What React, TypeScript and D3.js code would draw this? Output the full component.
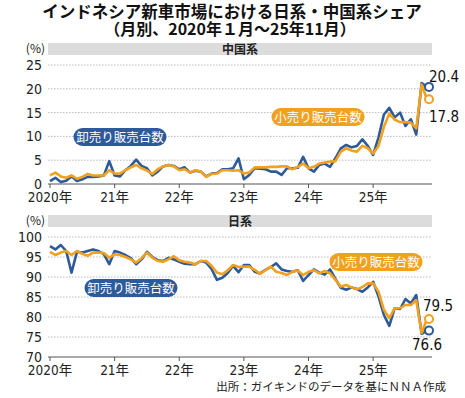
import * as d3 from 'd3'

// monthly share (%), Jan 2020 - Nov 2025
const chinaWholesale = [
  0.6, 1.3, 0.4, 0.7, 1.6, 0.6, 1.0, 1.5, 1.5, 1.6, 1.8, 4.8,
  1.8, 1.6, 2.9, 3.8, 5.1, 3.8, 3.3, 1.8, 2.6, 3.7, 4.0, 3.8,
  3.1, 3.5, 2.4, 2.8, 2.6, 1.6, 2.2, 2.3, 3.1, 3.1, 3.3, 5.4,
  1.0, 1.9, 3.3, 3.2, 3.1, 2.6, 2.6, 1.9, 3.3, 3.3, 3.4, 5.7,
  3.3, 2.6, 4.0, 4.3, 3.6, 5.4, 7.5, 8.2, 7.7, 8.0, 9.4, 8.0,
  6.1, 9.8, 14.6, 16.0, 14.0, 15.0, 12.2, 13.6, 10.4, 21.2, 20.4,
]
const chinaRetail = [
  1.8, 2.4, 1.6, 1.3, 1.8, 1.1, 1.5, 2.1, 1.8, 1.8, 1.8, 2.9,
  2.2, 2.2, 2.9, 3.5, 4.0, 3.3, 2.8, 2.1, 3.1, 3.7, 4.0, 3.7,
  2.9, 3.1, 2.4, 2.9, 2.6, 1.5, 2.1, 2.2, 2.9, 2.9, 2.8, 2.9,
  2.2, 2.4, 3.5, 3.5, 3.5, 3.6, 3.6, 3.7, 3.7, 3.1, 3.6, 4.3,
  3.3, 3.6, 4.3, 4.5, 4.7, 4.8, 6.8, 7.5, 7.0, 6.8, 8.0, 7.5,
  6.4, 8.0, 12.0, 14.8, 13.5, 13.0, 13.0, 12.9, 11.7, 20.9, 17.8,
]
const japanWholesale = [
  97.7, 96.9, 98.0, 96.5, 91.1, 96.3, 96.1, 96.5, 96.9, 96.5, 95.7, 93.2,
  96.5, 96.1, 95.5, 94.7, 93.2, 94.4, 96.3, 95.0, 94.2, 94.0, 94.8, 94.4,
  93.8, 93.3, 93.2, 93.2, 94.0, 93.6, 92.0, 89.3, 89.8, 91.0, 92.8, 91.2,
  93.0, 93.0, 91.3, 90.9, 91.8, 92.5, 93.4, 91.9, 91.5, 91.3, 91.7, 89.0,
  90.5, 91.9, 91.1, 90.6, 91.9, 89.5, 87.3, 86.8, 87.4, 87.0, 86.3, 87.4,
  88.8, 85.1, 80.5, 77.8, 82.2, 82.0, 84.5, 83.4, 85.5, 75.8, 76.6,
]
const japanRetail = [
  96.3, 95.5, 96.1, 96.5, 95.5, 96.5, 95.8, 95.3, 96.1, 96.1, 96.0, 94.8,
  95.7, 95.5, 95.0, 94.4, 93.6, 94.7, 96.1, 94.8, 94.0, 93.8, 94.4, 95.2,
  94.2, 93.8, 93.6, 93.2, 94.0, 94.0, 92.8, 91.1, 90.7, 91.7, 93.0, 92.5,
  92.6, 92.6, 91.8, 90.8, 91.7, 92.6, 91.3, 91.0, 90.5, 91.3, 91.6, 90.5,
  91.3, 91.7, 90.9, 91.5, 90.9, 89.3, 87.6, 88.0, 87.4, 86.9, 87.5, 88.4,
  88.4, 86.3, 81.8, 79.7, 82.2, 82.2, 83.0, 83.0, 84.2, 76.0, 79.5,
]
const yearLabels = ['2020年', '21年', '22年', '23年', '24年', '25年']
const chinaTicks = [0, 5, 10, 15, 20, 25]
const japanTicks = [70, 75, 80, 85, 90, 95, 100]

const BLUE = '#2d5a9a'
const ORANGE = '#f2a11f'
const NUM_FONT = "'Liberation Sans Narrow','DejaVu Sans Condensed','Noto Sans CJK JP',sans-serif"
const JP_FONT = "'Noto Sans CJK JP',sans-serif"

const x = d3.scaleLinear().domain([0, chinaWholesale.length - 1]).range([50, 427])

type PanelProps = {
  title: string
  top: number
  yDomain: [number, number]
  yRange: [number, number]
  ticks: number[]
  wholesale: number[]
  retail: number[]
  bluePill: [number, number]
  orangePill: [number, number]
  labels: { blue: [number, number]; orange: [number, number] }
}

function Pill({ cx, cy, text, fill }: { cx: number; cy: number; text: string; fill: string }) {
  const w = 93
  const h = 18
  return (
    <g>
      <rect x={cx - w / 2} y={cy - h / 2} width={w} height={h} rx={9} fill={fill} />
      <text x={cx} y={cy + 4.5} textAnchor="middle" fill="#fff" fontSize={12.5} fontFamily={JP_FONT}>
        {text}
      </text>
    </g>
  )
}

function Panel(p: PanelProps) {
  const y = d3.scaleLinear().domain(p.yDomain).range(p.yRange)
  const line = d3.line<number>().x((_, i) => x(i)).y((d) => y(d))
  const last = p.wholesale.length - 1
  const base = p.yRange[0]
  return (
    <g>
      <text x={45} y={p.top + 11} textAnchor="end" fontSize={12} fontFamily={JP_FONT} fill="#222">(%)</text>
      <rect x={48} y={p.top + 1} width={384} height={12} fill="#dcdcdc" />
      <text x={240} y={p.top + 11.5} textAnchor="middle" fontSize={12} fontWeight="bold" fontFamily={JP_FONT} fill="#222">
        {p.title}
      </text>
      {p.ticks.map((t) => (
        <g key={t}>
          {t !== p.yDomain[0] && (
            <line x1={48} x2={432} y1={y(t)} y2={y(t)} stroke="#aaa" strokeWidth={0.8} strokeDasharray="1.5,1.5" />
          )}
          <text x={42} y={y(t) + 5} textAnchor="end" fontSize={14} fontFamily={NUM_FONT} fill="#222">{t}</text>
        </g>
      ))}
      <line x1={48} x2={432} y1={base} y2={base} stroke="#555" strokeWidth={1} />
      {yearLabels.map((lab, k) => (
        <g key={lab}>
          <line x1={x(k * 12)} x2={x(k * 12)} y1={base} y2={base + 4} stroke="#555" strokeWidth={1} />
          <text x={x(k * 12)} y={base + 18} textAnchor="middle" fontSize={13.5} fontFamily={NUM_FONT} fill="#222">{lab}</text>
        </g>
      ))}
      <path d={line(p.wholesale) ?? ''} fill="none" stroke={BLUE} strokeWidth={2.6} strokeLinejoin="round" />
      <path d={line(p.retail) ?? ''} fill="none" stroke={ORANGE} strokeWidth={2.6} strokeLinejoin="round" />
      <circle cx={x(last) + 2} cy={y(p.wholesale[last])} r={4} fill="#fff" stroke={BLUE} strokeWidth={2} />
      <circle cx={x(last) + 2} cy={y(p.retail[last])} r={4} fill="#fff" stroke={ORANGE} strokeWidth={2} />
      <text x={p.labels.blue[0]} y={p.labels.blue[1]} fontSize={15} fontFamily={NUM_FONT} fill="#111">
        {p.wholesale[last].toFixed(1)}
      </text>
      <text x={p.labels.orange[0]} y={p.labels.orange[1]} fontSize={15} fontFamily={NUM_FONT} fill="#111">
        {p.retail[last].toFixed(1)}
      </text>
      <Pill cx={p.bluePill[0]} cy={p.bluePill[1]} text="卸売り販売台数" fill={BLUE} />
      <Pill cx={p.orangePill[0]} cy={p.orangePill[1]} text="小売り販売台数" fill={ORANGE} />
    </g>
  )
}

export default function App() {
  return (
    <svg width={465} height={398} style={{ position: 'absolute', left: 0, top: 0, background: '#fff' }}>
      <text x={232} y={18} textAnchor="middle" fontSize={16.5} fontWeight="bold" fontFamily={JP_FONT} fill="#111">
        インドネシア新車市場における日系・中国系シェア
      </text>
      <text x={230} y={35} textAnchor="middle" fontSize={16} fontWeight="bold" fontFamily={JP_FONT} fill="#111">
        （月別、2020年１月～25年11月）
      </text>
      <Panel
        title="中国系"
        top={42}
        yDomain={[0, 25]}
        yRange={[184, 65]}
        ticks={chinaTicks}
        wholesale={chinaWholesale}
        retail={chinaRetail}
        bluePill={[120, 137]}
        orangePill={[318, 117]}
        labels={{ blue: [429, 82], orange: [429, 122] }}
      />
      <Panel
        title="日系"
        top={214}
        yDomain={[70, 100]}
        yRange={[357, 237]}
        ticks={japanTicks}
        wholesale={japanWholesale}
        retail={japanRetail}
        bluePill={[131, 288]}
        orangePill={[376, 262]}
        labels={{ blue: [412, 350], orange: [423, 311] }}
      />
      <text x={446} y={391} textAnchor="end" fontSize={11.5} fontFamily={JP_FONT} fill="#222">
        出所：ガイキンドのデータを基にＮＮＡ作成
      </text>
    </svg>
  )
}
